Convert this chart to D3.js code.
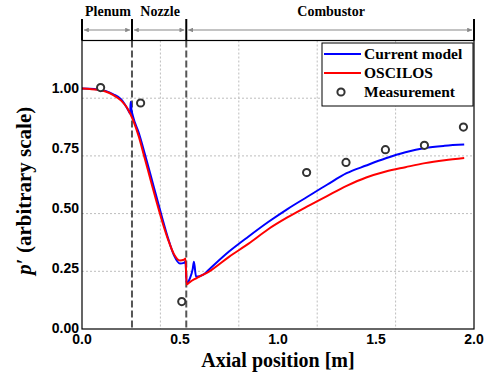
<!DOCTYPE html>
<html>
<head>
<meta charset="utf-8">
<script src="https://cdn.jsdelivr.net/npm/d3@7"></script>
<style>
  body { margin: 0; background: #fff; }
  svg { display: block; }
</style>
</head>
<body>
<div class="container"></div>
<script>
const WIDTH = 491
const HEIGHT = 375

// Current model (blue)
const modelX = [0, 0.04, 0.08, 0.12, 0.16, 0.2, 0.236, 0.246, 0.248, 0.252, 0.26, 0.29, 0.32, 0.35, 0.38, 0.41, 0.44, 0.47, 0.5, 0.52, 0.528, 0.534, 0.55, 0.565, 0.571, 0.582, 0.619, 0.65, 0.75, 0.85, 0.95, 1.05, 1.15, 1.25, 1.35, 1.45, 1.55, 1.65, 1.75, 1.85, 1.95]
const modelY = [1.0, 0.999, 0.996, 0.99, 0.976, 0.955, 0.91, 0.895, 0.945, 0.915, 0.885, 0.815, 0.73, 0.64, 0.55, 0.46, 0.375, 0.305, 0.272, 0.275, 0.28, 0.19, 0.21, 0.25, 0.28, 0.217, 0.226, 0.249, 0.322, 0.385, 0.445, 0.5, 0.55, 0.6, 0.648, 0.68, 0.71, 0.735, 0.753, 0.762, 0.767]

// OSCILOS (red)
const oscX = [0, 0.04, 0.08, 0.12, 0.16, 0.2, 0.23, 0.26, 0.29, 0.32, 0.35, 0.38, 0.41, 0.44, 0.47, 0.5, 0.52, 0.528, 0.534, 0.55, 0.58, 0.65, 0.75, 0.85, 0.95, 1.05, 1.15, 1.25, 1.35, 1.45, 1.55, 1.65, 1.75, 1.85, 1.95]
const oscY = [1.0, 0.998, 0.995, 0.988, 0.973, 0.95, 0.92, 0.87, 0.8, 0.71, 0.62, 0.53, 0.445, 0.37, 0.31, 0.285, 0.288, 0.293, 0.185, 0.195, 0.21, 0.24, 0.3, 0.355, 0.415, 0.465, 0.51, 0.553, 0.595, 0.63, 0.655, 0.673, 0.69, 0.702, 0.711]

// Measurement points
const measX = [0.095, 0.299, 0.509, 1.146, 1.347, 1.548, 1.747, 1.946]
const measY = [1.004, 0.94, 0.114, 0.651, 0.693, 0.746, 0.764, 0.84]

// Sections
const sectionNames = ['Plenum', 'Nozzle', 'Combustor']
const sectionBounds = [0, 0.255, 0.532, 2.0]

const xTicks = [0, 0.5, 1.0, 1.5, 2.0]
const yTicks = [0, 0.25, 0.5, 0.75, 1.0]

const margin = { top: 40.5, right: 17, bottom: 46, left: 82 }

const x = d3.scaleLinear().domain([0, 2]).range([margin.left, WIDTH - margin.right])
const y = d3.scaleLinear().domain([0, 1.2]).range([HEIGHT - margin.bottom, margin.top])

const svg = d3.select('.container').append('svg')
    .attr('width', WIDTH)
    .attr('height', HEIGHT)
    .attr('viewBox', `0 0 ${WIDTH} ${HEIGHT}`)

const x0 = x.range()[0], x1 = x.range()[1]
const yB = y.range()[0], yT = y.range()[1]

// Grid (5 equal divisions, independent of ticks)
const grid = svg.append('g')
    .attr('stroke', '#bdbdbd')
    .attr('stroke-width', 1)
    .attr('stroke-dasharray', '2,2')
d3.range(1, 5).forEach(i => {
    grid.append('line')
        .attr('x1', x(i * 0.4)).attr('x2', x(i * 0.4))
        .attr('y1', yT).attr('y2', yB)
    grid.append('line')
        .attr('x1', x0).attr('x2', x1)
        .attr('y1', y(i * 0.24)).attr('y2', y(i * 0.24))
})

// Section boundaries (dashed)
svg.append('g')
    .selectAll('line')
    .data(sectionBounds.slice(1, 3))
    .join('line')
    .attr('x1', d => x(d)).attr('x2', d => x(d))
    .attr('y1', yT).attr('y2', yB)
    .attr('stroke', '#555')
    .attr('stroke-width', 2)
    .attr('stroke-dasharray', '7,3')

// Lines
const line = d3.line()
    .curve(d3.curveMonotoneX)
    .x(d => x(d[0]))
    .y(d => y(d[1]))

svg.append('path')
    .datum(d3.zip(modelX, modelY))
    .attr('fill', 'none')
    .attr('stroke', '#0000ff')
    .attr('stroke-width', 2)
    .attr('d', line)

svg.append('path')
    .datum(d3.zip(oscX, oscY))
    .attr('fill', 'none')
    .attr('stroke', '#ff0000')
    .attr('stroke-width', 2)
    .attr('d', line)

svg.append('g')
    .selectAll('circle')
    .data(d3.zip(measX, measY))
    .join('circle')
    .attr('cx', d => x(d[0]))
    .attr('cy', d => y(d[1]))
    .attr('r', 3.6)
    .attr('fill', '#fff')
    .attr('stroke', '#333')
    .attr('stroke-width', 2)

// Frame
svg.append('rect')
    .attr('x', x0).attr('y', yT)
    .attr('width', x1 - x0).attr('height', yB - yT)
    .attr('fill', 'none')
    .attr('stroke', '#000')
    .attr('stroke-width', 1.2)

// Tick labels
svg.append('g')
    .attr('font-family', 'Liberation Sans, Arial, sans-serif')
    .attr('font-weight', 'bold')
    .attr('font-size', 14)
    .attr('text-anchor', 'middle')
    .selectAll('text')
    .data(xTicks)
    .join('text')
    .attr('x', d => x(d))
    .attr('y', yB + 15)
    .text(d => d.toFixed(1))

svg.append('g')
    .attr('font-family', 'Liberation Sans, Arial, sans-serif')
    .attr('font-weight', 'bold')
    .attr('font-size', 14)
    .attr('text-anchor', 'end')
    .selectAll('text')
    .data(yTicks)
    .join('text')
    .attr('x', x0 - 3)
    .attr('y', d => y(d) + 4)
    .text(d => d.toFixed(2))

// Axis titles
svg.append('text')
    .attr('x', (x0 + x1) / 2)
    .attr('y', 367)
    .attr('text-anchor', 'middle')
    .attr('font-family', 'Liberation Serif, Times New Roman, serif')
    .attr('font-weight', 'bold')
    .attr('font-size', 20)
    .text('Axial position [m]')

const yl = svg.append('text')
    .attr('transform', `translate(31,${(yT + yB) / 2 + 6}) rotate(-90)`)
    .attr('text-anchor', 'middle')
    .attr('font-family', 'Liberation Serif, Times New Roman, serif')
    .attr('font-weight', 'bold')
    .attr('font-size', 21)
yl.append('tspan').attr('font-style', 'italic').text('p')
yl.append('tspan').text('\u2032 (arbitrary scale)')

// Section header
const hdr = svg.append('g')
const headY = 30
hdr.selectAll('line.sep')
    .data(sectionBounds)
    .join('line')
    .attr('class', 'sep')
    .attr('x1', d => x(d)).attr('x2', d => x(d))
    .attr('y1', 19).attr('y2', yT)
    .attr('stroke', '#000')
    .attr('stroke-width', 2)

svg.append('defs').append('marker')
    .attr('id', 'ah')
    .attr('viewBox', '0 0 10 10')
    .attr('refX', 10).attr('refY', 5)
    .attr('markerWidth', 4).attr('markerHeight', 4)
    .attr('orient', 'auto-start-reverse')
    .append('path')
    .attr('d', 'M0,0 L10,5 L0,10 Z')
    .attr('fill', '#888')

hdr.selectAll('line.arrow')
    .data(d3.pairs(sectionBounds))
    .join('line')
    .attr('class', 'arrow')
    .attr('x1', d => x(d[0]) + 2).attr('x2', d => x(d[1]) - 2)
    .attr('y1', headY).attr('y2', headY)
    .attr('stroke', '#888')
    .attr('stroke-width', 1.2)
    .attr('marker-start', 'url(#ah)')
    .attr('marker-end', 'url(#ah)')

hdr.selectAll('text')
    .data(d3.pairs(sectionBounds))
    .join('text')
    .attr('x', d => (x(d[0]) + x(d[1])) / 2 + 1)
    .attr('y', 16)
    .attr('text-anchor', 'middle')
    .attr('font-family', 'Liberation Serif, Times New Roman, serif')
    .attr('font-weight', 'bold')
    .attr('font-size', 14)
    .text((d, i) => sectionNames[i])

// Legend
const lg = svg.append('g').attr('transform', 'translate(322,43)')
lg.append('rect')
    .attr('width', 151).attr('height', 63)
    .attr('fill', '#fff')
    .attr('stroke', '#000')
    .attr('stroke-width', 1)
const legendItems = [
    { name: 'Current model', color: '#0000ff', type: 'line' },
    { name: 'OSCILOS', color: '#ff0000', type: 'line' },
    { name: 'Measurement', color: '#333', type: 'circle' }
]
const li = lg.selectAll('g')
    .data(legendItems)
    .join('g')
    .attr('transform', (d, i) => `translate(0,${11 + i * 19})`)
li.filter(d => d.type === 'line').append('line')
    .attr('x1', 2).attr('x2', 39)
    .attr('stroke', d => d.color)
    .attr('stroke-width', 2)
li.filter(d => d.type === 'circle').append('circle')
    .attr('cx', 19).attr('r', 3.6)
    .attr('fill', '#fff')
    .attr('stroke', '#333')
    .attr('stroke-width', 2)
li.append('text')
    .attr('x', 42)
    .attr('y', 5)
    .attr('font-family', 'Liberation Serif, Times New Roman, serif')
    .attr('font-weight', 'bold')
    .attr('font-size', 15.5)
    .text(d => d.name)
</script>
</body>
</html>
